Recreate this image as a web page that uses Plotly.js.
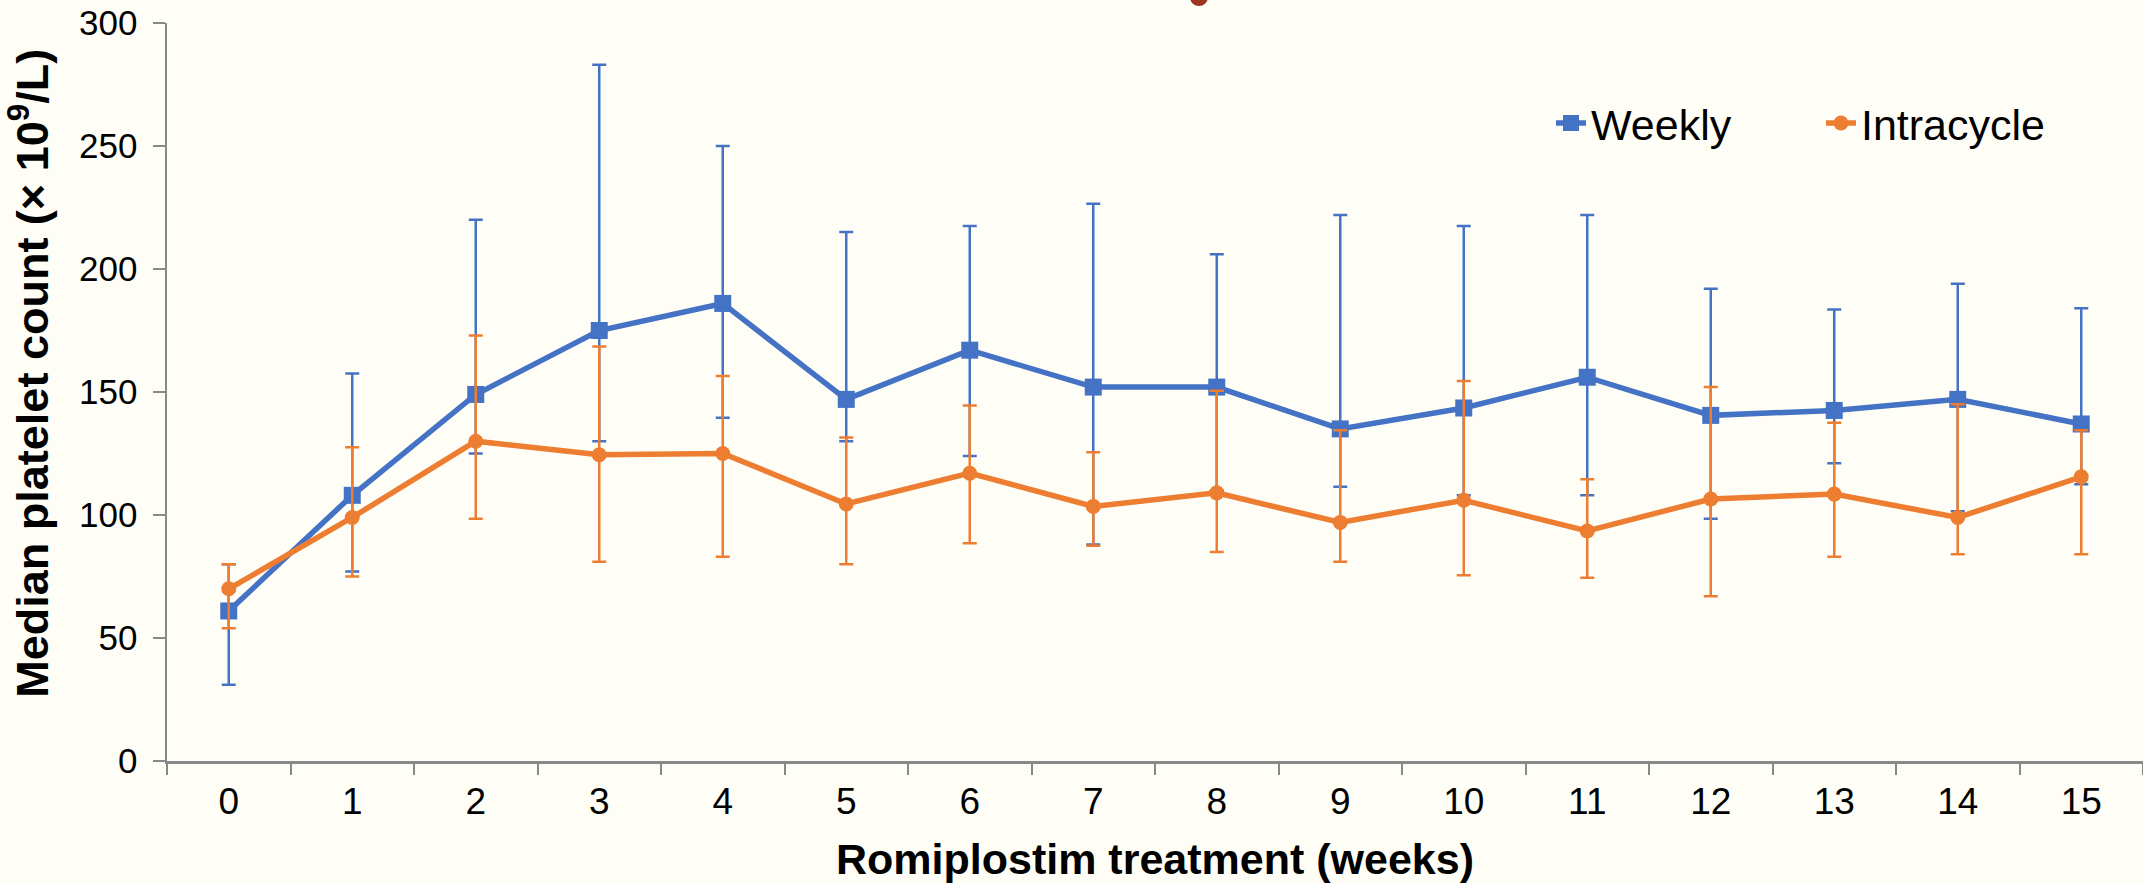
<!DOCTYPE html>
<html>
<head>
<meta charset="utf-8">
<script src="https://cdn.plot.ly/plotly-3.0.1.min.js"></script>
<style>
  html, body { margin: 0; padding: 0; background: #FFFEF6; }
  #chart { width: 2143px; height: 883px; }
</style>
</head>
<body>
<div id="chart"></div>
<script>
// ---- Data ----
var weeks = ['0','1','2','3','4','5','6','7','8','9','10','11','12','13','14','15'];

var weeklyMedian = [61, 108, 149, 175, 186, 147, 167, 152, 152, 135, 143.5, 156, 140.5, 142.5, 147, 137];
var weeklyUpper  = [80, 157.5, 220, 283, 250, 215, 217.5, 226.5, 206, 222, 217.5, 222, 192, 183.5, 194, 184];
var weeklyLower  = [31, 77, 125, 130, 139.5, 130, 124, 88, 110, 111.5, 108, 108, 98.5, 121, 101.5, 112.5];

var intraMedian = [70, 99, 130, 124.5, 125, 104.5, 117, 103.5, 109, 97, 106, 93.5, 106.5, 108.5, 99, 115.5];
var intraUpper  = [80, 127.5, 173, 168.5, 156.5, 131.5, 144.5, 125.5, 150.5, 134.5, 154.5, 114.5, 152, 137.5, 145, 134.5];
var intraLower  = [54, 75, 98.5, 81, 83, 80, 88.5, 87.5, 85, 81, 75.5, 74.5, 67, 83, 84, 84];

var seriesNames = ['Weekly', 'Intracycle'];
var xTitle = 'Romiplostim treatment (weeks)';
var yTitle = 'Median platelet count (× 10<sup>9</sup>/L)';

// ---- Styling ----
var BLUE = '#4472C4';
var ORANGE = '#ED7D31';
var FONT = 'Liberation Sans, Arial, Helvetica, sans-serif';
var BG = '#FFFEF6';
var AXIS = '#898989';

function diff(a, b) { return a.map(function (v, i) { return v - b[i]; }); }

var traceWeekly = {
  type: 'scatter', mode: 'lines+markers', name: seriesNames[0],
  x: weeks, y: weeklyMedian,
  line: { color: BLUE, width: 5.5 },
  marker: { symbol: 'square', size: 17, color: BLUE },
  error_y: {
    type: 'data', symmetric: false,
    array: diff(weeklyUpper, weeklyMedian),
    arrayminus: diff(weeklyMedian, weeklyLower),
    color: BLUE, thickness: 2.5, width: 7
  },
  cliponaxis: false
};

var traceIntra = {
  type: 'scatter', mode: 'lines+markers', name: seriesNames[1],
  x: weeks, y: intraMedian,
  line: { color: ORANGE, width: 5.5 },
  marker: { symbol: 'circle', size: 15, color: ORANGE },
  error_y: {
    type: 'data', symmetric: false,
    array: diff(intraUpper, intraMedian),
    arrayminus: diff(intraMedian, intraLower),
    color: ORANGE, thickness: 2.5, width: 7
  },
  cliponaxis: false
};

var layout = {
  width: 2143, height: 883,
  paper_bgcolor: BG, plot_bgcolor: BG,
  margin: { l: 167, r: 0, t: 23, b: 122, pad: 0 },
  font: { family: FONT, color: '#000000', size: 35 },
  showlegend: true,
  legend: {
    orientation: 'h',
    x: 0.7004, xanchor: 'left',
    y: 0.8645, yanchor: 'middle',
    bgcolor: 'rgba(0,0,0,0)',
    font: { family: FONT, size: 43, color: '#000000' },
    entrywidth: 225, entrywidthmode: 'pixels',
    itemsizing: 'trace'
  },
  xaxis: {
    type: 'category',
    tickson: 'boundaries',
    showgrid: false, zeroline: false,
    showline: true, linecolor: AXIS, linewidth: 3,
    ticks: 'outside', ticklen: 11, tickwidth: 2, tickcolor: AXIS,
    tickfont: { family: FONT, size: 37, color: '#000000' },
    ticklabelstandoff: 6,
    range: [-0.5, 15.5],
    title: { text: '<b>' + xTitle + '</b>', font: { family: FONT, size: 43, color: '#000000' }, standoff: 28 }
  },
  yaxis: {
    range: [0, 300], dtick: 50, tick0: 0,
    showgrid: false, zeroline: false,
    showline: true, linecolor: AXIS, linewidth: 2.5,
    ticks: 'outside', ticklen: 12, tickwidth: 2, tickcolor: AXIS,
    tickfont: { family: FONT, size: 35, color: '#000000' },
    ticklabelstandoff: 8,
    title: { text: '<b>&nbsp;&nbsp;&nbsp;' + yTitle + '</b>', font: { family: FONT, size: 45, color: '#000000' }, standoff: 28 }
  },
  shapes: [
    {
      type: 'circle', xref: 'paper', yref: 'paper',
      x0: 0.5177, x1: 0.5268, y0: 1.023, y1: 1.047,
      fillcolor: '#9A3520', line: { width: 0 }, layer: 'above'
    }
  ]
};

Plotly.newPlot('chart', [traceWeekly, traceIntra], layout, { displayModeBar: false, staticPlot: true });
</script>
</body>
</html>
